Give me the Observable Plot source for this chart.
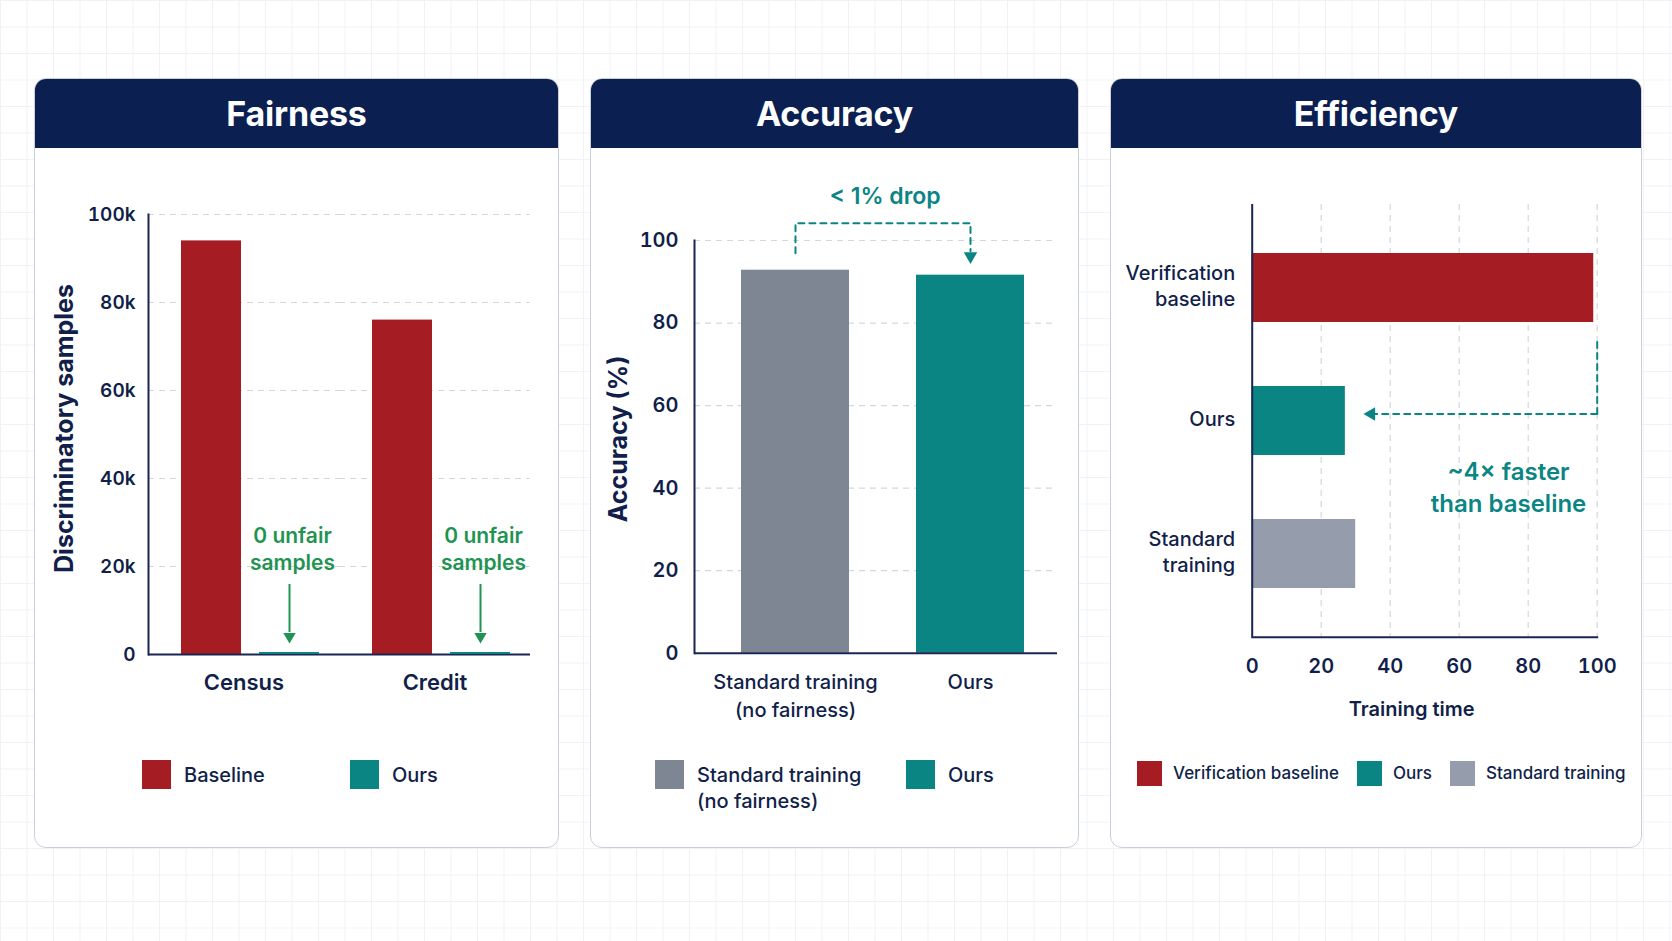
<!DOCTYPE html>
<html>
<head>
<meta charset="utf-8">
<script src="https://cdn.jsdelivr.net/npm/d3@7"></script>
<script src="https://cdn.jsdelivr.net/npm/@observablehq/plot@0.6"></script>
<style>
  body {
    margin: 0; width: 1672px; height: 941px; position: relative; overflow: hidden;
    background-color: #ffffff;
    background-image: linear-gradient(#f0f2f6 1px, transparent 1px), linear-gradient(90deg, #f0f2f6 1px, transparent 1px);
    background-size: 26.5px 26.5px;
    font-family: Inter, "Noto Sans", sans-serif; color: #111f4a;
  }
  .panel {
    position: absolute; top: 78px; height: 770px; background: #fff;
    border: 1.5px solid #c9cfda; border-radius: 12px; box-sizing: border-box; overflow: hidden;
  }
  .head {
    height: 69px; background: #0b2051; color: #fff; font-size: 34px; font-weight: 700;
    display: flex; align-items: center; justify-content: center; letter-spacing: -0.2px;
  }
  .chart { position: absolute; top: 148px; }
  .legend { position: absolute; display: flex; align-items: flex-start; }
  .item { display: flex; align-items: flex-start; }
  .sw { flex: none; }
  .lab { white-space: pre; font-weight: 500; }
</style>
</head>
<body>
<script>
// ---- data ----
const fairDatasets = ["Census", "Credit"];
const fairMethods = ["Baseline", "Ours"];
const fairBaseline = [94000, 76000];
const fairOurs = [0, 0];
const fairTicks = [0, 20000, 40000, 60000, 80000, 100000];

const accMethods = ["Standard training\n(no fairness)", "Ours"];
const accValues = [92.8, 91.6];
const accTicks = [0, 20, 40, 60, 80, 100];

const effMethods = ["Verification\nbaseline", "Ours", "Standard\ntraining"];
const effValues = [99, 27, 30];
const effTicks = [0, 20, 40, 60, 80, 100];

const panelTitles = ["Fairness", "Accuracy", "Efficiency"];
const fairLegend = ["Baseline", "Ours"];
const accLegend = ["Standard training\n(no fairness)", "Ours"];
const effLegend = ["Verification baseline", "Ours", "Standard training"];

// ---- palette ----
const navy = "#111f4a";
const axisNavy = "#1a2553";
const red = "#a51d22";
const teal = "#0b8584";
const gray = "#7e8694";
const grayLight = "#959cab";
const green = "#1f9452";
const gridColor = "#d2d7e0";

// ---- panels ----
const panelBoxes = [[34, 525], [590, 489], [1110, 532]];
panelBoxes.forEach(([left, width], i) => {
  const p = document.createElement("div");
  p.className = "panel";
  p.style.left = left + "px";
  p.style.width = width + "px";
  const h = document.createElement("div");
  h.className = "head";
  h.textContent = panelTitles[i];
  p.append(h);
  document.body.append(p);
});

const baseStyle = {background: "transparent", fontFamily: "Inter, 'Noto Sans', sans-serif", color: navy, overflow: "visible"};
const dash = "6,5";

function place(svg, left) {
  svg.classList.add("chart");
  svg.style.left = left + "px";
  document.body.append(svg);
}

// ---- Fairness ----
const fairData = fairDatasets.flatMap((d, i) => [
  {dataset: d, method: fairMethods[0], value: fairBaseline[i]},
  {dataset: d, method: fairMethods[1], value: fairOurs[i]}
]);
const fairBase = fairData.filter(d => d.method === fairMethods[0]);
const fairOur = fairData.filter(d => d.method === fairMethods[1]);

const fairPlot = Plot.plot({
  width: 525, height: 560,
  marginLeft: 114, marginRight: 29, marginTop: 66, marginBottom: 54,
  style: baseStyle,
  fx: {domain: fairDatasets, padding: 0},
  x: {domain: fairMethods, paddingInner: 0.23, paddingOuter: 0.338, align: 0.62, axis: null},
  y: {domain: [0, 100000]},
  marks: [
    Plot.ruleY(fairTicks.slice(1), {stroke: gridColor, strokeWidth: 1.2, strokeDasharray: dash}),
    Plot.barY(fairBase, {fx: "dataset", x: "method", y: "value", fill: red}),
    Plot.ruleY([0], {stroke: axisNavy, strokeWidth: 2}),
    Plot.tickY(fairOur, {fx: "dataset", x: "method", y: "value", stroke: teal, strokeWidth: 2, dy: -1.5}),
    Plot.frame({anchor: "left", facetAnchor: "left", stroke: axisNavy, strokeWidth: 2}),
    Plot.axisY({ticks: fairTicks, tickFormat: d => d ? `${d / 1000}k` : "0", tickSize: 0, tickPadding: 13,
      fontSize: 19, fontWeight: 600, label: null}),
    Plot.axisFx({anchor: "bottom", tickSize: 0, tickPadding: 20, fontSize: 22, fontWeight: 600, label: null}),
    Plot.text(["Discriminatory samples"], {frameAnchor: "left", facetAnchor: "left", rotate: -90, textAnchor: "middle",
      dx: -84, dy: -6, fontSize: 25, fontWeight: 700, fill: navy}),
    // "0 unfair samples" callouts pointing at the zero-height bars
    Plot.text(fairOur, {fx: "dataset", x: "method", y: () => 24300, text: d => `${d.value} unfair\nsamples`,
      dx: 3, fill: green, fontSize: 21, fontWeight: 600, lineHeight: 1.3}),
    Plot.ruleX(fairOur, {fx: "dataset", x: "method", y1: () => 15900, y2: () => 5000, stroke: green, strokeWidth: 2}),
    Plot.dot(fairOur, {fx: "dataset", x: "method", y: () => 4100, symbol: "triangle", rotate: 180, r: 4.6, fill: green})
  ]
});
place(fairPlot, 34);

// ---- Accuracy ----
const accData = accMethods.map((m, i) => ({method: m, value: accValues[i]}));
const accPlot = Plot.plot({
  width: 489, height: 580,
  marginLeft: 104, marginRight: 22, marginTop: 92, marginBottom: 75.3,
  style: baseStyle,
  x: {domain: accMethods, paddingInner: 0.385, paddingOuter: 0.227, align: 0.58},
  y: {domain: [0, 100]},
  color: {domain: accMethods, range: [gray, teal]},
  marks: [
    Plot.ruleY(accTicks.slice(1), {stroke: gridColor, strokeWidth: 1.2, strokeDasharray: dash}),
    Plot.barY(accData, {x: "method", y: "value", fill: "method"}),
    Plot.ruleY([0], {stroke: axisNavy, strokeWidth: 2}),
    Plot.frame({anchor: "left", stroke: axisNavy, strokeWidth: 2}),
    Plot.axisY({ticks: accTicks, tickSize: 0, tickPadding: 16, fontSize: 20, fontWeight: 600, label: null}),
    Plot.axisX({tickSize: 0, tickPadding: 16, fontSize: 20, fontWeight: 500, lineHeight: 1.4, label: null}),
    Plot.text(["Accuracy (%)"], {frameAnchor: "left", rotate: -90, textAnchor: "middle", dx: -76, dy: -8,
      fontSize: 25, fontWeight: 700, fill: navy}),
    // dashed bracket from the standard bar to ours
    Plot.line([
      {m: accMethods[0], v: 96.9}, {m: accMethods[0], v: 104.2},
      {m: accMethods[1], v: 104.2}, {m: accMethods[1], v: 97.4}
    ], {x: "m", y: "v", stroke: teal, strokeWidth: 2, strokeDasharray: dash}),
    Plot.dot([accMethods[1]], {x: d => d, y: () => 96.2, symbol: "triangle", rotate: 180, r: 5, fill: teal}),
    Plot.text(["< 1% drop"], {y: () => 110.7, dx: 9, fill: teal, fontSize: 23, fontWeight: 600})
  ]
});
place(accPlot, 590);

// ---- Efficiency ----
const effData = effMethods.map((m, i) => ({method: m, value: effValues[i]}));
const effPlot = Plot.plot({
  width: 532, height: 580,
  marginLeft: 141.7, marginRight: 45.3, marginTop: 56, marginBottom: 91.3,
  style: baseStyle,
  x: {domain: [0, 100]},
  y: {domain: effMethods, paddingInner: 0.483, paddingOuter: 0.363},
  color: {domain: effMethods, range: [red, teal, grayLight]},
  marks: [
    Plot.ruleX(effTicks.slice(1), {stroke: gridColor, strokeWidth: 1.2, strokeDasharray: dash}),
    Plot.barX(effData, {y: "method", x: "value", fill: "method"}),
    Plot.ruleX([0], {stroke: axisNavy, strokeWidth: 2}),
    Plot.frame({anchor: "bottom", stroke: axisNavy, strokeWidth: 2}),
    Plot.axisX({ticks: effTicks, tickSize: 0, tickPadding: 22, fontSize: 20, fontWeight: 600, label: null}),
    Plot.axisY({tickSize: 0, tickPadding: 17, fontSize: 20, fontWeight: 500, lineHeight: 1.3, dy: -3, label: null}),
    Plot.text(["Training time"], {frameAnchor: "bottom", dy: 79, dx: -13, fontSize: 20, fontWeight: 600, fill: navy}),
    // dashed elbow arrow from the baseline's end to ours
    Plot.arrow([0], {x1: () => 100, x2: () => 100, y1: () => effMethods[0], y2: () => effMethods[1],
      insetStart: 54, insetEnd: 7, headLength: 0, stroke: teal, strokeWidth: 2, strokeDasharray: dash}),
    Plot.arrow([0], {x1: () => 100, x2: () => 35.6, y1: () => effMethods[1], y2: () => effMethods[1],
      dy: -7, headLength: 0, stroke: teal, strokeWidth: 2, strokeDasharray: dash}),
    Plot.dot([effMethods[1]], {x: () => 34.5, y: d => d, dy: -7, symbol: "triangle", rotate: -90, r: 5, fill: teal}),
    Plot.text([`~${Math.round(effValues[0] / effValues[1])}× faster\nthan baseline`], {x: () => 74.3, y: () => effMethods[1],
      dy: 65, fill: teal, fontSize: 24, fontWeight: 600, lineHeight: 1.3})
  ]
});
place(effPlot, 1110);

// ---- legends ----
function legend(labels, colors, {left, top, size, font, widths, gap, lineHeight}) {
  const box = document.createElement("div");
  box.className = "legend";
  box.style.left = left + "px";
  box.style.top = top + "px";
  box.style.gap = (gap || 0) + "px";
  labels.forEach((label, i) => {
    const it = document.createElement("div");
    it.className = "item";
    if (widths && widths[i]) it.style.width = widths[i] + "px";
    const sw = document.createElement("div");
    sw.className = "sw";
    sw.style.width = sw.style.height = size + "px";
    sw.style.background = colors[i];
    const lab = document.createElement("div");
    lab.className = "lab";
    lab.textContent = label;
    lab.style.fontSize = font + "px";
    lab.style.lineHeight = lineHeight + "px";
    lab.style.marginLeft = Math.round(size * 0.45) + "px";
    lab.style.marginTop = ((size - lineHeight) / 2) + "px";
    it.append(sw, lab);
    box.append(it);
  });
  document.body.append(box);
}
legend(fairLegend, [red, teal], {left: 142, top: 760, size: 29, font: 20, widths: [208], lineHeight: 26});
legend(accLegend, [gray, teal], {left: 655, top: 760, size: 29, font: 20, widths: [251], lineHeight: 26});
legend(effLegend, [red, teal, grayLight], {left: 1137, top: 760.5, size: 25, font: 17, gap: 18, lineHeight: 24});
</script>
</body>
</html>
